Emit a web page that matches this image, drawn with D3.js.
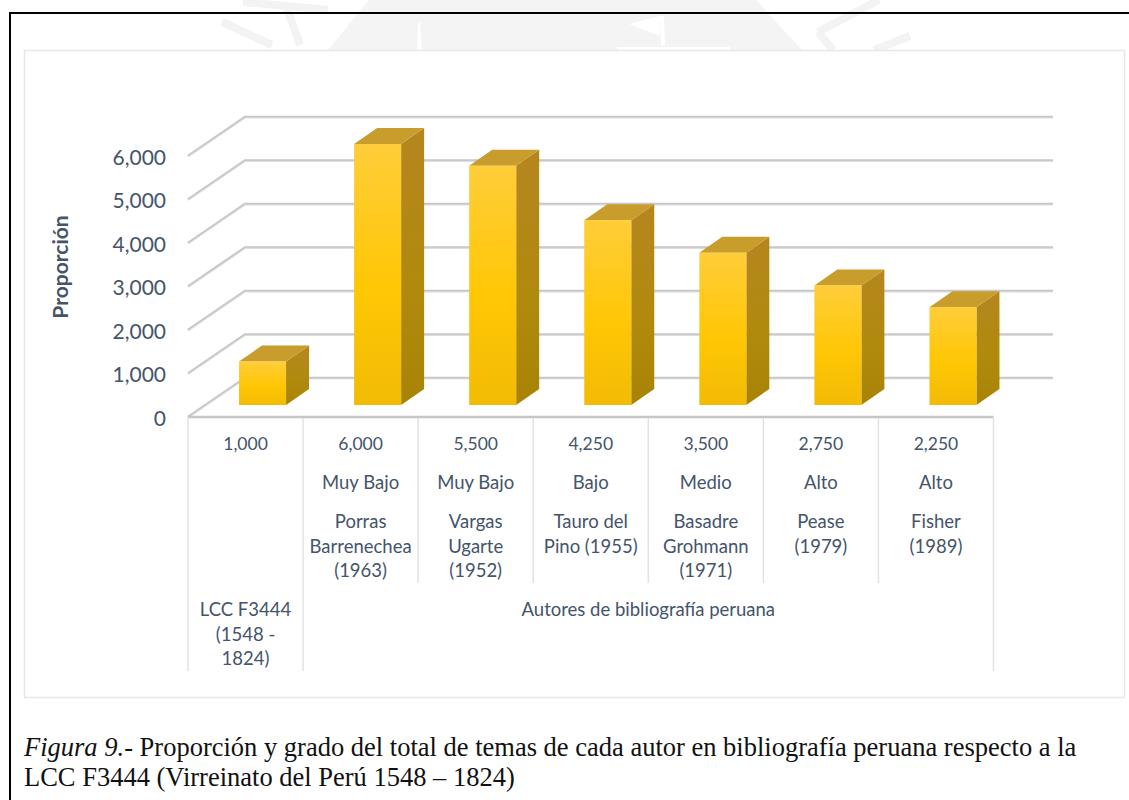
<!DOCTYPE html>
<html><head><meta charset="utf-8">
<style>html,body{margin:0;padding:0;background:#fff;overflow:hidden}svg{display:block}</style>
<script src="https://cdn.jsdelivr.net/npm/d3@7"></script></head><body>
<svg id="c" width="1129" height="800"></svg>
<script>
const values = [1000, 6000, 5500, 4250, 3500, 2750, 2250];
const valueLabels = ["1,000","6,000","5,500","4,250","3,500","2,750","2,250"];
const grades = ["", "Muy Bajo", "Muy Bajo", "Bajo", "Medio", "Alto", "Alto"];
const authors = [[], ["Porras","Barrenechea","(1963)"], ["Vargas","Ugarte","(1952)"], ["Tauro del","Pino (1955)"], ["Basadre","Grohmann","(1971)"], ["Pease","(1979)"], ["Fisher","(1989)"]];
const groups = [{label:["LCC F3444","(1548 -","1824)"], from:0, to:1}, {label:["Autores de bibliografía peruana"], from:1, to:7}];
const yTicks = [0,1000,2000,3000,4000,5000,6000];
const axisTitle = "Proporción";
const captionItalic = "Figura 9.";
const captionLine1 = "- Proporción y grado del total de temas de cada autor en bibliografía peruana respecto a la";
const captionLine2 = "LCC F3444 (Virreinato del Perú 1548 – 1824)";

const svg = d3.select("#c");
const defs = svg.append("defs");
const grad = (id, stops) => { const g = defs.append("linearGradient").attr("id",id).attr("x1",0).attr("x2",0).attr("y1",0).attr("y2",1);
  stops.forEach(s => g.append("stop").attr("offset",s[0]).attr("stop-color",s[1])); };
grad("front",[[0,"#ffcd3a"],[0.55,"#ffc705"],[1,"#f2bb05"]]);
grad("side",[[0,"#b5861f"],[0.6,"#b08a0c"],[1,"#a98305"]]);

// faint watermark above the chart frame
const wm = svg.append("g").attr("fill","#f4f4f4");
wm.append("path").attr("d","M328,50L369,0L756,0L802,50Z");
wm.append("path").attr("d","M417,50L418,23L420,23L422,50Z M629,24L660,16L660,36Z M660,16L664,16L665,45L661,45Z M617,50L730,50L730,47L617,47Z").attr("fill","#fff");
const wl = [[243,2,328,10],[222,22,272,45],[287,8,300,45],[879,0,818,32],[818,32,833,50],[910,36,874,50]];
wm.selectAll("line").data(wl).join("line").attr("x1",d=>d[0]).attr("y1",d=>d[1]).attr("x2",d=>d[2]).attr("y2",d=>d[3]).attr("stroke","#f3f3f3").attr("stroke-width",8);

// page frame
svg.append("path").attr("d","M10,800V13H1129").attr("fill","none").attr("stroke","#000").attr("stroke-width",2);
svg.append("rect").attr("x",24.5).attr("y",50.5).attr("width",1100).attr("height",647).attr("fill","#fff").attr("stroke","#e3e7ee").attr("stroke-width",1.5);

// scales
const idx = d3.range(values.length);
const band = d3.scaleBand().domain(idx).range([188,993.5]);
const yFront = d3.scaleLinear().domain([0,6000]).range([417,156]);
const depthX = 57, depthY = 39, wallEnd = 1053;
const yBar = d3.scaleLinear().domain([0,6000]).range([405,144]);
const barW = 47, barDX = 23, barDY = 16, barShift = 17;

// gridlines
const gl = svg.append("g").attr("fill","none");
const gridPath = d => `M${band.range()[0]},${yFront(d)}L${band.range()[0]+depthX},${yFront(d)-depthY}L${wallEnd},${yFront(d)-depthY}`;
gl.selectAll("path.o").data(yTicks).join("path").attr("class","o").attr("d",gridPath).attr("stroke","#c6c6c8").attr("stroke-width",2.6);
gl.selectAll("path.i").data(yTicks).join("path").attr("class","i").attr("d",gridPath).attr("stroke","#e4e4e6").attr("stroke-width",0.7).attr("transform","translate(0,0.8)");
gl.append("line").attr("x1",188).attr("x2",993.5).attr("y1",yFront(0)).attr("y2",yFront(0)).attr("stroke","#c6c6c8").attr("stroke-width",2.4);

// bars
const bars = svg.append("g").selectAll("g").data(idx).join("g");
const bx = i => band(i) + (band.bandwidth()-barW)/2 + barShift;
bars.append("path").attr("d",i=>`M${bx(i)+barW},${yBar(values[i])}l${barDX},${-barDY}V${yBar(0)-barDY}l${-barDX},${barDY}Z`).attr("fill","url(#side)");
bars.append("path").attr("d",i=>`M${bx(i)},${yBar(values[i])}l${barDX},${-barDY}h${barW}l${-barDX},${barDY}Z`).attr("fill","#c89d2c");
bars.append("rect").attr("x",bx).attr("y",i=>yBar(values[i])).attr("width",barW).attr("height",i=>yBar(0)-yBar(values[i])).attr("fill","url(#front)");

// y axis labels
const ink = "#44546a", sans = "Lato, 'Open Sans', sans-serif";
const yAxis = d3.axisLeft(yFront).tickValues(yTicks).tickFormat(d3.format(",")).tickSize(0).tickPadding(0);
const yg = svg.append("g").attr("transform","translate(166,1.5)").call(yAxis);
yg.select(".domain").remove();
yg.selectAll("text").attr("font-family",sans).attr("font-size",21).attr("fill",ink);
svg.append("text").attr("transform","translate(68,267) rotate(-90)").attr("text-anchor","middle").attr("font-family",sans).attr("font-weight",700).attr("font-size",21).attr("fill",ink).text(axisTitle);

// multi-level category labels
const rowY = [443,482,521,546,570];
const groupY = [609,634,658];
const tx = svg.append("g").attr("font-family",sans).attr("font-size",18.5).attr("fill",ink).attr("text-anchor","middle").attr("dominant-baseline","central");
const cx = i => band(i)+band.bandwidth()/2;
tx.selectAll("text.v").data(idx).join("text").attr("class","v").attr("x",cx).attr("y",rowY[0]).attr("font-size",17.5).text(i=>valueLabels[i]);
tx.selectAll("text.g").data(idx).join("text").attr("class","g").attr("x",cx).attr("y",rowY[1]).text(i=>grades[i]);
idx.forEach(i=>authors[i].forEach((t,k)=>tx.append("text").attr("x",cx(i)).attr("y",rowY[2+k]).text(t)));
groups.forEach(g=>{const m=(band(g.from)+band(g.to-1)+band.bandwidth())/2; g.label.forEach((t,k)=>tx.append("text").attr("x",m).attr("y",groupY[k]).text(t));});

// dividers
const dv = svg.append("g").attr("stroke","#dfe3e9").attr("stroke-width",1.5);
idx.concat([values.length]).forEach(i=>{
  const x = i<values.length ? band(i) : band.range()[1];
  const long = groups.some(g=>g.from===i||g.to===i);
  dv.append("line").attr("x1",x).attr("x2",x).attr("y1",418).attr("y2",long?671:583);
});

// caption
const cap = svg.append("g").attr("font-family","'Liberation Serif','Times New Roman',serif").attr("font-size",26.5).attr("fill","#111");
const l1 = cap.append("text").attr("x",24).attr("y",756);
l1.append("tspan").attr("font-style","italic").text(captionItalic);
l1.append("tspan").text(captionLine1);
cap.append("text").attr("x",24).attr("y",786).text(captionLine2);
</script></body></html>
